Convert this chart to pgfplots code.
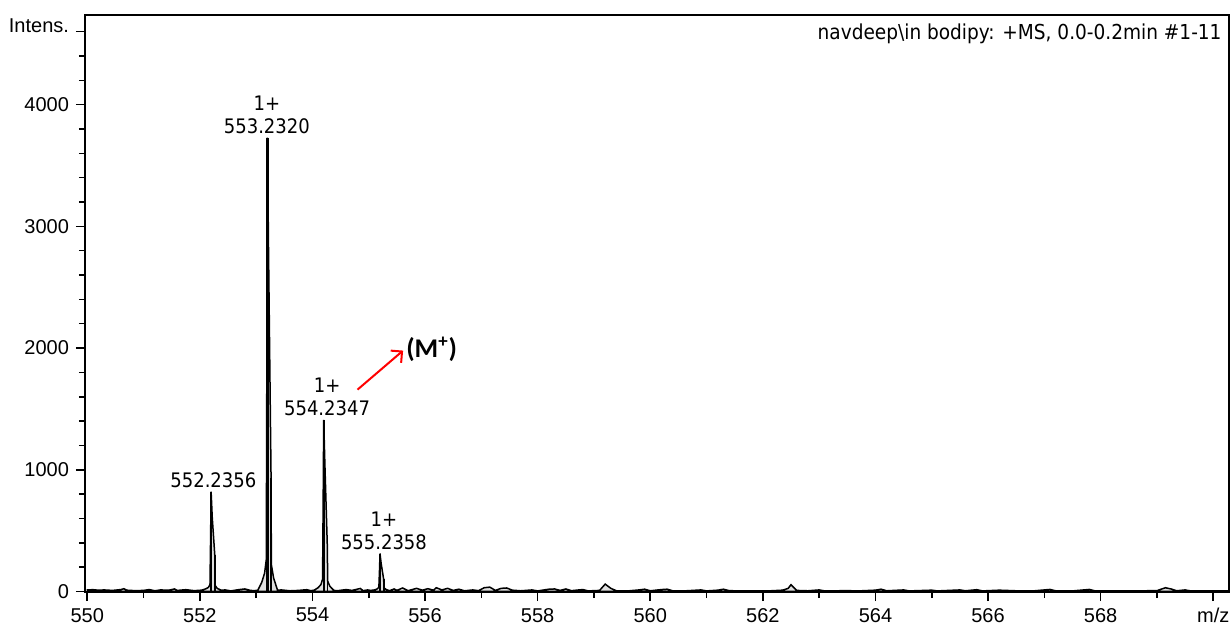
\documentclass[border=0pt]{standalone}
\usepackage{pgfplots}
\pgfplotsset{compat=1.18}
\usepackage{fontspec}
\setmainfont{Liberation Sans}
\newfontfamily\dv{DejaVu Sans Condensed}
\newfontfamily\cb{Carlito}
\usetikzlibrary{arrows.meta}
\begin{document}
\begin{tikzpicture}
\begin{axis}[name=ax,
  scale only axis, width=572pt, height=288.5pt,
  xmin=549.96, xmax=570.28, ymin=-5, ymax=4737,
  axis line style={line width=1pt},
  tick pos=left, tick align=outside,
  major tick length=4.5pt, minor tick length=3pt,
  every tick/.style={black, line width=0.8pt},
  xtick={550,552,...,570},
  xticklabels={550,552,554,556,558,560,562,564,566,568,m/z},
  minor xtick={551,553,...,569},
  ytick={0,1000,2000,3000,4000},
  minor ytick={200,400,600,800,1200,1400,1600,1800,2200,2400,2600,2800,3200,3400,3600,3800,4200,4400},
  extra y ticks={4600}, extra y tick labels={Intens.},
  extra y tick style={yticklabel style={yshift=3pt}},
  /pgf/number format/assume math mode=true,
  /pgf/number format/set thousands separator={},
  tick label style={font=\fontsize{10}{12}\selectfont},
  clip=false,
]
\addplot[fill=gray!25, draw=black, line width=0.75pt] coordinates {
(550.00,12)(550.1,14)(550.2,10)(550.3,12)(550.45,8)(550.6,15)(550.65,22)(550.7,10)(550.85,6)(551.0,8)(551.1,15)(551.2,5)(551.3,12)(551.45,10)(551.55,20)(551.6,8)(551.75,14)(551.9,6)
(552.03,10)(552.10,20)(552.15,32)(552.18,55)(552.192,480)(552.20,820)(552.22,610)(552.265,300)(552.27,50)(552.31,24)(552.38,10)
(552.45,12)(552.55,4)(552.7,15)(552.8,20)(552.9,8)(552.97,6)
(553.03,10)(553.10,75)(553.15,150)(553.18,260)(553.192,2240)(553.20,3730)(553.22,2800)(553.265,930)(553.27,220)(553.31,110)(553.38,10)
(553.45,12)(553.6,5)(553.75,8)(553.9,14)(553.97,6)
(554.03,10)(554.10,30)(554.15,56)(554.18,100)(554.192,850)(554.20,1410)(554.22,1060)(554.265,360)(554.27,85)(554.31,42)(554.38,8)
(554.45,6)(554.6,15)(554.7,8)(554.85,24)(554.9,6)(554.98,12)
(555.03,8)(555.10,12)(555.15,20)(555.18,35)(555.192,185)(555.20,311)(555.22,230)(555.265,100)(555.27,30)(555.31,15)(555.37,6)
(555.45,20)(555.5,8)(555.6,28)(555.7,6)(555.85,25)(555.95,10)(556.05,22)(556.15,10)(556.2,30)(556.3,12)(556.4,25)(556.5,8)(556.6,18)(556.7,5)(556.85,12)(556.95,6)(557.05,30)(557.15,35)(557.25,8)(557.35,25)(557.45,28)(557.55,10)(557.7,5)(557.9,12)(558.0,4)(558.2,18)(558.3,20)(558.4,8)(558.5,20)(558.6,6)(558.8,15)(558.9,4)(559.1,8)(559.2,60)(559.3,25)(559.4,5)(559.6,4)(559.8,12)(559.9,18)(560.0,5)(560.2,15)(560.3,18)(560.4,5)(560.6,4)(560.9,12)(561.0,4)(561.2,10)(561.3,18)(561.4,6)(561.6,4)(561.9,5)(562.1,4)(562.35,10)(562.45,25)(562.5,55)(562.6,8)(562.8,5)(563.0,12)(563.1,4)(563.5,6)(563.7,4)(564.0,10)(564.1,18)(564.2,5)(564.5,12)(564.6,4)(565.0,10)(565.1,4)(565.5,12)(565.6,5)(565.8,14)(565.9,4)(566.2,10)(566.5,5)(566.8,4)(567.1,16)(567.2,5)(567.5,4)(567.8,16)(567.9,4)(568.3,5)(568.5,4)(569.0,6)(569.15,30)(569.25,20)(569.35,5)(569.5,12)(569.6,4)(570.0,5)(570.28,5)
} \closedcycle;
\addplot[ycomb, black, line width=1.2pt, mark=none] coordinates {(552.20,820) (553.20,3730) (554.20,1410) (555.20,311)};
\addplot[ycomb, black, line width=0.8pt, mark=none] coordinates {(552.267,300) (553.267,930) (554.267,360) (555.267,100)};
\node[font=\dv\fontsize{10}{11.5}\selectfont, align=center, anchor=south, inner sep=1pt] at (axis cs:552.24,830) {552.2356};
\node[font=\dv\fontsize{10}{11.5}\selectfont, align=center, anchor=south, inner sep=1pt] at (axis cs:553.19,3745) {1+\\553.2320};
\node[font=\dv\fontsize{10}{11.5}\selectfont, align=center, anchor=south, inner sep=1pt] at (axis cs:554.26,1425) {1+\\554.2347};
\node[font=\dv\fontsize{10}{11.5}\selectfont, align=center, anchor=south, inner sep=1pt] at (axis cs:555.27,320) {1+\\555.2358};
\node[font=\dv\fontsize{10.3}{12}\selectfont, anchor=north east, inner sep=0pt] at ([xshift=-3.5pt,yshift=-4pt]rel axis cs:1,1) {navdeep\textbackslash in bodipy: +MS, 0.0-0.2min \#1-11};
\draw[red, line width=1pt, -{Straight Barb[length=4pt, width=8pt]}] (axis cs:554.80,1658) -- (axis cs:555.61,1979);
\node[font=\cb\bfseries\fontsize{13.5}{15}\selectfont, anchor=west, inner sep=0pt] at (axis cs:555.66,1990) {(M\textsuperscript{+})};
\end{axis}
\pgfresetboundingbox
\path[use as bounding box] ([xshift=-42.5pt,yshift=-17.5pt]ax.south west) rectangle ([xshift=1.5pt,yshift=7.5pt]ax.north east);
\end{tikzpicture}
\end{document}
